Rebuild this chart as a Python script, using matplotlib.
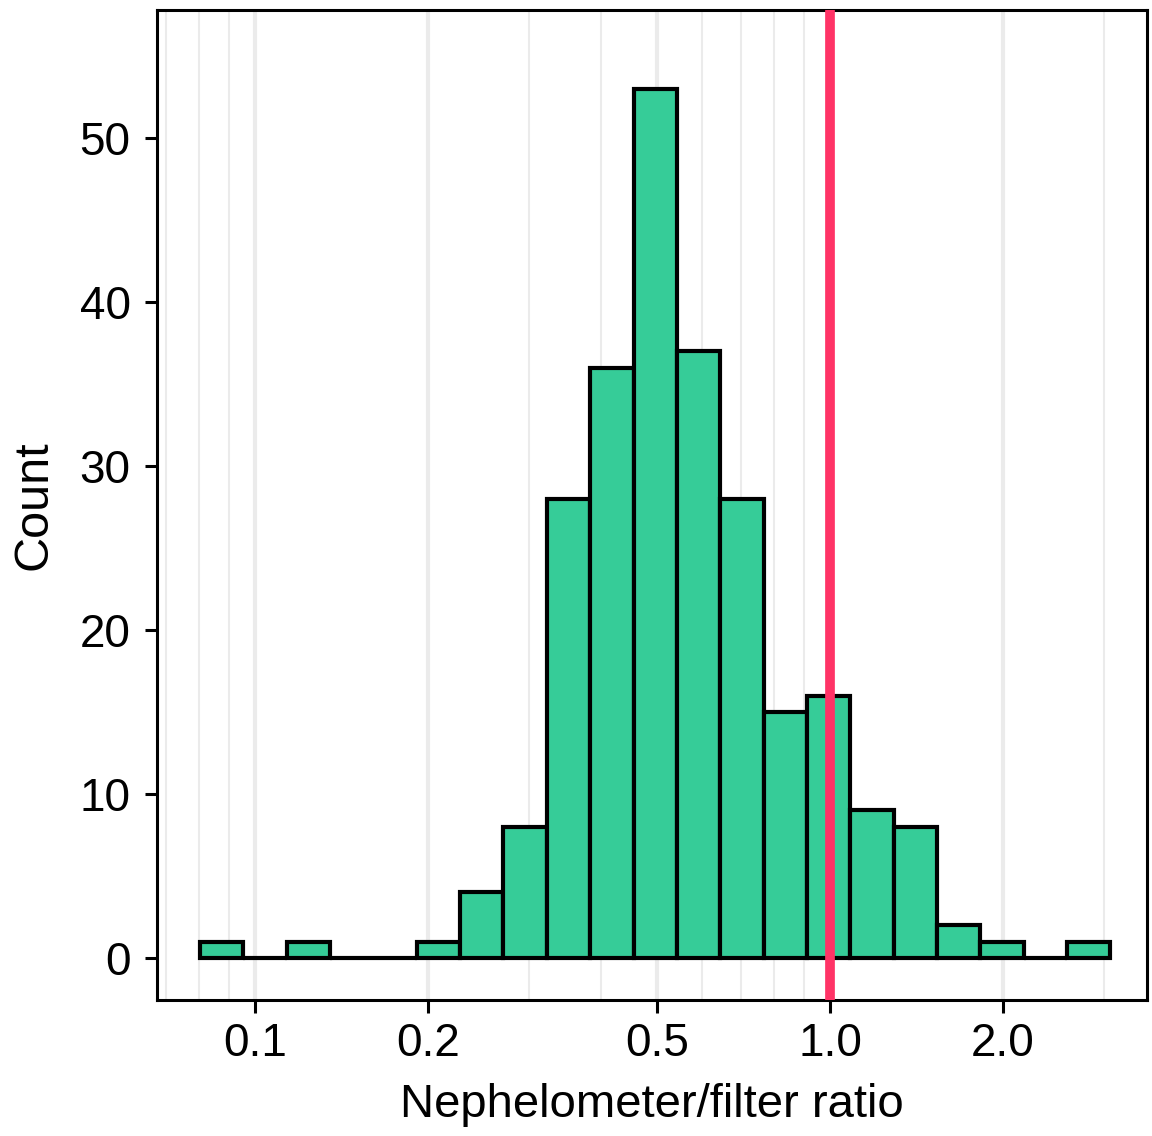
import numpy as np
import matplotlib
matplotlib.use("Agg")
import matplotlib.pyplot as plt
from matplotlib.ticker import FixedLocator, NullFormatter

plt.rcParams['font.family'] = ['Liberation Sans', 'DejaVu Sans']

# histogram bins (ratio, log spaced) and counts
bin_edges = [0.0802, 0.0954, 0.1135, 0.1350, 0.1606, 0.1911, 0.2273, 0.2704,
             0.3217, 0.3827, 0.4553, 0.5417, 0.6444, 0.7666, 0.9120, 1.0846,
             1.2904, 1.5352, 1.8263, 2.1727, 2.5848, 3.0750]
counts = [1, 0, 1, 0, 0, 1, 4, 8, 28, 36, 53, 37, 28, 15, 16, 9, 8, 2, 1, 0, 1]

x_ticks = [0.1, 0.2, 0.5, 1.0, 2.0]
x_labels = ["0.1", "0.2", "0.5", "1.0", "2.0"]
minor_grid = [0.07, 0.08, 0.09, 0.3, 0.4, 0.6, 0.7, 0.8, 0.9, 3.0]
y_ticks = [0, 10, 20, 30, 40, 50]
ref_line = 1.0

fig = plt.figure(figsize=(11.52, 11.36), dpi=100)
ax = fig.add_axes([0.1363, 0.1197, 0.8594, 0.8715])
ax.set_xscale('log')

for x in minor_grid:
    ax.axvline(x, color='#ebebeb', lw=1.5, zorder=0)
for x in x_ticks:
    ax.axvline(x, color='#ebebeb', lw=3, zorder=0)

left = np.array(bin_edges[:-1])
width = np.array(bin_edges[1:]) - left
ax.bar(left, counts, width=width, align='edge', color='#36cc98',
       edgecolor='black', linewidth=3, zorder=2)
ax.axvline(ref_line, color='#ff3366', lw=7, zorder=3)

ax.set_xlim(0.0675, 3.56)
ax.set_ylim(-2.56, 57.8)

ax.xaxis.set_major_locator(FixedLocator(x_ticks))
ax.set_xticklabels(x_labels)
ax.xaxis.set_minor_locator(FixedLocator([]))
ax.xaxis.set_minor_formatter(NullFormatter())
ax.set_yticks(y_ticks)

for s in ax.spines.values():
    s.set_linewidth(2.2)
ax.tick_params(axis='both', length=9, width=2.2, labelsize=33, pad=7, colors='black')
ax.tick_params(axis='y', pad=10)
ax.set_xlabel("Nephelometer/filter ratio", fontsize=34, labelpad=12)
ax.set_ylabel("Count", fontsize=35, labelpad=17)

fig.savefig("out.png", dpi=100)
